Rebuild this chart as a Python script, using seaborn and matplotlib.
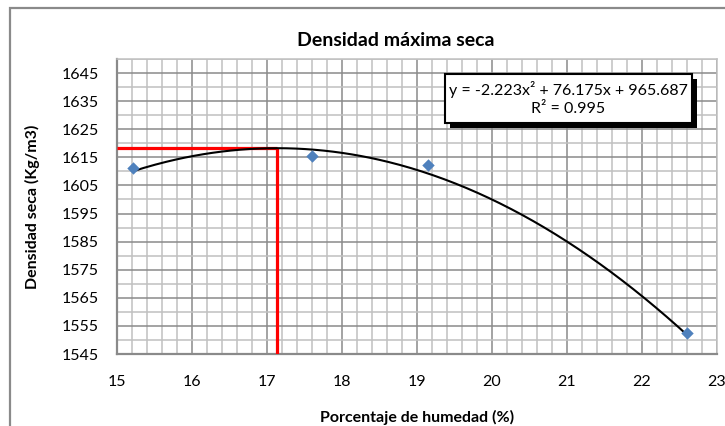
import numpy as np
import matplotlib
matplotlib.use("Agg")
import matplotlib.pyplot as plt
from matplotlib.patches import Rectangle
from matplotlib.ticker import MultipleLocator
import seaborn as sns

# Ensayo de compactación: humedad (%) vs densidad seca (kg/m3)
humedad = [15.21, 17.60, 19.14, 22.60]
densidad = [1611.1, 1615.3, 1612.1, 1552.5]

# Línea de tendencia polinómica de 2º grado (a, b, c) y su R²
coef = [-2.223, 76.175, 965.687]
r2 = 0.995

x_ticks = [15, 16, 17, 18, 19, 20, 21, 22, 23]
y_ticks = [1545, 1555, 1565, 1575, 1585, 1595, 1605, 1615, 1625, 1635, 1645]
y_lim = (1545, 1650)

titulo = "Densidad máxima seca"
etiqueta_x = "Porcentaje de humedad (%)"
etiqueta_y = "Densidad seca (Kg/m3)"

sns.set_theme(style="white")
plt.rcParams["font.family"] = ["Lato", "DejaVu Sans"]

W, H = 725, 426
fig = plt.figure(figsize=(W / 100, H / 100), dpi=100)
fig.patch.set_facecolor("white")


def px(x, y):
    """Pixel position (from top-left) to figure fraction."""
    return x / W, 1 - y / H


ax = fig.add_axes([117 / W, 1 - 354 / H, 600 / W, 295 / H])
ax.set_facecolor("white")

# Rejilla: principal y secundaria
ax.set_xlim(x_ticks[0], x_ticks[-1])
ax.set_ylim(*y_lim)
ax.set_xticks(x_ticks)
ax.set_yticks(y_ticks)
ax.xaxis.set_minor_locator(MultipleLocator(0.2))
ax.yaxis.set_minor_locator(MultipleLocator(5))
ax.grid(which="minor", color="#c0c0c0", lw=1.1, zorder=0)
ax.grid(which="major", color="#8a8a8a", lw=1.1, zorder=0)
ax.set_axisbelow(True)
ax.tick_params(which="both", length=0)
ax.tick_params(axis="x", pad=15, labelsize=11.5, labelcolor="black")
ax.tick_params(axis="y", pad=13, labelsize=11.5, labelcolor="black")

for side in ("left", "bottom"):
    ax.spines[side].set_color("#8a8a8a")
    ax.spines[side].set_linewidth(1.6)
for side in ("top", "right"):
    ax.spines[side].set_color("#c0c0c0")
    ax.spines[side].set_linewidth(1.1)

# Máximo de la parábola: humedad óptima y densidad máxima
a, b, c = coef
x_opt = -b / (2 * a)
y_max = np.polyval(coef, x_opt)
ax.plot([x_ticks[0], x_opt], [y_max, y_max], color="#ff0000", lw=2.3,
        solid_capstyle="butt", zorder=3)
ax.plot([x_opt, x_opt], [y_lim[0], y_max], color="#ff0000", lw=2.3,
        solid_capstyle="butt", zorder=3)

# Curva de tendencia
xs = np.linspace(min(humedad), max(humedad), 300)
ys = np.polyval(coef, xs)
sns.lineplot(x=xs, y=ys, color="black", lw=1.5, ax=ax, zorder=4)

# Puntos del ensayo
sns.scatterplot(x=humedad, y=densidad, marker="D", s=40, color="#4f81bd",
                linewidth=0, ax=ax, zorder=5)

# Cuadro con la ecuación y R²
bx0, by0, bx1, by1 = 445, 74, 692, 123
sh = 5
fig.add_artist(Rectangle(px(bx0 + sh, by1 + sh), (bx1 - bx0) / W, (by1 - by0) / H,
                         transform=fig.transFigure, facecolor="black",
                         edgecolor="black", lw=0, zorder=6))
fig.add_artist(Rectangle(px(bx0, by1), (bx1 - bx0) / W, (by1 - by0) / H,
                         transform=fig.transFigure, facecolor="white",
                         edgecolor="black", lw=1.5, zorder=7))
ecuacion = f"y = {a:.3f}x² + {b:.3f}x + {c:.3f}"
fig.text(*px((bx0 + bx1) / 2, 90), ecuacion, ha="center", va="center",
         fontsize=11.5, color="black", zorder=8)
fig.text(*px((bx0 + bx1) / 2, 109), f"R² = {r2:.3f}", ha="center", va="center",
         fontsize=11.5, color="black", zorder=8)

# Títulos
fig.text(*px(396, 40), titulo, ha="center", va="center", fontsize=14,
         fontweight="bold", color="black")
fig.text(*px(417, 417), etiqueta_x, ha="center", va="center", fontsize=11.5,
         fontweight="bold", color="black")
fig.text(*px(32, 207), etiqueta_y, ha="center", va="center", fontsize=11.5,
         fontweight="bold", color="black", rotation=90)

# Borde del área del gráfico
fig.add_artist(Rectangle(px(10, H + 20), 1.2, (H + 20 - 8) / H,
                         transform=fig.transFigure, facecolor="none",
                         edgecolor="#8a8a8a", lw=1.6, zorder=1))

ax.set_xlabel("")
ax.set_ylabel("")
fig.savefig("out.png", dpi=100, facecolor="white")
